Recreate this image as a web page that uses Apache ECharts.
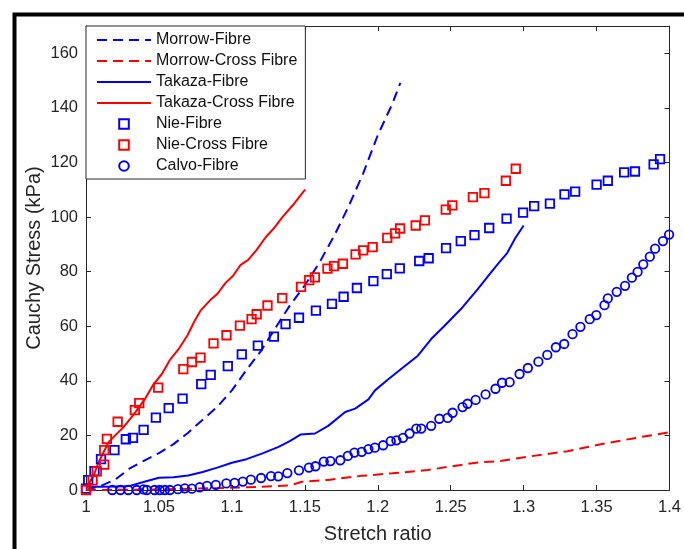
<!DOCTYPE html>
<html>
<head>
<meta charset="utf-8">
<script src="https://cdn.jsdelivr.net/npm/echarts@6/dist/echarts.min.js"></script>
<style>
  html, body { margin: 0; padding: 0; background: #fff; }
  #chart { width: 684px; height: 549px; }
</style>
</head>
<body>
<div id="chart"></div>
<script>
// stretch ratio / stress (kPa)
var morrowFibre = [[1.0,0],[1.01,1.5],[1.02,3.8],[1.03,7.9],[1.04,10.8],[1.05,13.5],[1.06,16.8],[1.07,21],[1.08,25.7],[1.09,30.5],[1.10,36.5],[1.11,44],[1.12,51],[1.13,59.5],[1.14,67.8],[1.15,75],[1.16,83.3],[1.17,93],[1.18,103.9],[1.19,116],[1.20,130],[1.21,141.5],[1.2155,149.2]];
var morrowCross = [[1.0,0],[1.05,0.2],[1.10,0.8],[1.12,1.2],[1.14,1.7],[1.148,3.0],[1.166,3.7],[1.189,5.2],[1.21,6.1],[1.234,7.3],[1.257,9.2],[1.27,10.2],[1.284,10.6],[1.3067,12.5],[1.33,14.2],[1.352,16.7],[1.375,18.9],[1.4,21.2]];
var takazaFibre = [[1.0,1.2],[1.01,1.2],[1.02,1.3],[1.03,1.5],[1.04,3.0],[1.05,4.5],[1.06,4.7],[1.07,5.3],[1.08,6.6],[1.09,8.2],[1.10,10],[1.11,11.3],[1.121,13.4],[1.132,15.8],[1.14,18],[1.147,20.3],[1.157,20.7],[1.166,23.5],[1.1777,28.6],[1.1845,29.8],[1.1936,33.2],[1.1981,36.5],[1.207,40.5],[1.2162,44.4],[1.2275,49.2],[1.2366,55.3],[1.2458,60.2],[1.257,66.3],[1.2684,73.5],[1.2775,79.6],[1.2831,83.3],[1.2888,86.9],[1.2944,92.4],[1.3,96.9]];
var takazaCross = [[1.0,0.5],[1.0054,5.5],[1.0088,10.4],[1.0122,14],[1.0156,17.6],[1.02,20],[1.0258,23.1],[1.0303,26.1],[1.034,28.6],[1.04,33],[1.046,38.5],[1.052,42.5],[1.0577,47.8],[1.064,52],[1.0696,56.7],[1.0745,62],[1.0785,65.7],[1.085,69.5],[1.0903,72],[1.0955,75.8],[1.1007,78.4],[1.106,82.5],[1.111,84.2],[1.117,88],[1.123,92.5],[1.129,96],[1.1348,100.1],[1.142,104.5],[1.1496,109.7],[1.1505,110]];
var nieFibre = [[1.0,0.5],[1.0015,3.6],[1.0058,6.9],[1.0103,11.3],[1.0195,14.6],[1.0273,18.6],[1.0322,19.1],[1.0395,22],[1.0479,26.5],[1.0567,30],[1.0662,33.5],[1.079,38.8],[1.0855,42.2],[1.0972,45.4],[1.1068,49.7],[1.1178,52.9],[1.1288,56.2],[1.1368,60.8],[1.146,63.1],[1.1576,65.7],[1.1686,68.2],[1.1766,70.8],[1.1857,74],[1.197,76.5],[1.2062,79.1],[1.2151,81.2],[1.2284,83.9],[1.2349,84.9],[1.2468,88.6],[1.2569,91.2],[1.2663,93.4],[1.2764,96],[1.2883,99.4],[1.2996,101.6],[1.3072,104],[1.318,104.9],[1.328,108.3],[1.3353,109.3],[1.35,111.9],[1.3577,113.3],[1.3689,116.4],[1.3763,116.7],[1.3891,119.3],[1.3935,121.2]];
var nieCross = [[1.0,0],[1.0045,3.5],[1.0074,6.8],[1.0125,9.3],[1.0125,14.6],[1.0143,18.7],[1.0217,25],[1.0335,29.3],[1.0365,31.8],[1.0495,37.5],[1.0667,44.3],[1.0726,46.9],[1.0785,48.5],[1.0874,53.7],[1.0963,56.7],[1.1055,60.2],[1.1135,62.6],[1.117,64.4],[1.1244,67.6],[1.1345,70.3],[1.1474,74.4],[1.153,76.9],[1.1569,77.9],[1.1655,81.1],[1.17,82],[1.1761,82.9],[1.1848,86.3],[1.19,87.8],[1.1965,89],[1.2065,92.4],[1.2119,94],[1.2153,95.8],[1.226,96.9],[1.2323,98.8],[1.2466,102.7],[1.2511,104.3],[1.2652,107.3],[1.2731,108.8],[1.2878,113.3],[1.2946,117.7]];
var calvoFibre = [[1.018,0],[1.0236,0],[1.029,0],[1.0348,0],[1.0394,0.2],[1.0417,0],[1.047,0],[1.0505,0],[1.054,0],[1.0575,0],[1.063,0.3],[1.0677,0.6],[1.0726,0.5],[1.0779,1.0],[1.083,1.5],[1.089,1.9],[1.0962,2.4],[1.1019,2.6],[1.1075,3.1],[1.113,3.8],[1.12,4.4],[1.1268,5.1],[1.1318,5.0],[1.138,6.2],[1.146,7.2],[1.1528,8.2],[1.1573,8.7],[1.163,10.4],[1.1675,10.6],[1.1743,10.9],[1.1795,12.5],[1.184,13.7],[1.189,14],[1.1936,15],[1.198,15.5],[1.2037,16.4],[1.2089,17.9],[1.2128,18.2],[1.2173,19.1],[1.2218,20.7],[1.2264,22.5],[1.2298,22.5],[1.2366,23.5],[1.2422,26.1],[1.2479,26.4],[1.2513,28.3],[1.2581,30.4],[1.2615,31.6],[1.2671,33],[1.2739,35],[1.2807,37.1],[1.2852,39.3],[1.2904,39.5],[1.2972,42.5],[1.3029,44.7],[1.3101,47],[1.3162,49.5],[1.3221,52.3],[1.3278,53.5],[1.3335,57.1],[1.3389,59.8],[1.3453,62.6],[1.3498,64.1],[1.3554,67.7],[1.3577,70.2],[1.3638,72.6],[1.3695,74.8],[1.3742,77.8],[1.3781,79.9],[1.382,82.7],[1.3865,85.5],[1.3901,88.4],[1.3955,91.2],[1.3997,93.6]];

var xTicks = {min: 1, max: 1.4, step: 0.05};
var yTicks = {min: 0, max: 170, step: 20};

var FONT = 'Liberation Sans, Arial, Helvetica, sans-serif';
var AXIS_COL = '#262626';
var NO_MARK = {color: 'rgba(0,0,0,0)', borderColor: 'rgba(0,0,0,0)', borderWidth: 0};

var chart = echarts.init(document.getElementById('chart'), null, {renderer: 'canvas'});

function tickFmt(v){ return String(parseFloat(v.toFixed(2))); }

function lineSeries(name, data, color, dashed){
  return {
    name: name, type: 'line', data: data, symbol: 'none', smooth: false,
    lineStyle: {color: color, width: 2, type: dashed ? [10, 6] : 'solid'},
    itemStyle: {color: color},
    emphasis: {disabled: true}
  };
}
function markerSeries(name, data, color, shape){
  // drawn as a line series with no visible line so the legend centres the marker
  return {
    name: name, type: 'line', data: data, symbol: shape, symbolSize: 8.5,
    showSymbol: true, showAllSymbol: true,
    lineStyle: {width: 0, opacity: 0},
    itemStyle: {color: 'none', borderColor: color, borderWidth: 1.8},
    emphasis: {disabled: true}
  };
}

var baseAxisLine = {show: true, onZero: false, lineStyle: {color: AXIS_COL, width: 1}};
var baseTick = {show: true, inside: true, length: 5, lineStyle: {color: AXIS_COL, width: 1}};

var option = {
  animation: false,
  backgroundColor: '#fff',
  textStyle: {fontFamily: FONT},
  grid: {left: 86, right: 10, top: 26, bottom: 57},
  legend: {
    left: 86, top: 26, orient: 'vertical',
    padding: [6, 8, 5, 10],
    itemWidth: 54, itemHeight: 12, itemGap: 5,
    borderColor: AXIS_COL, borderWidth: 1, backgroundColor: '#fff',
    textStyle: {fontSize: 16, color: '#111', fontFamily: FONT},
    selectedMode: false,
    data: [
      {name: 'Morrow-Fibre', itemStyle: NO_MARK},
      {name: 'Morrow-Cross Fibre', itemStyle: NO_MARK},
      {name: 'Takaza-Fibre', itemStyle: NO_MARK},
      {name: 'Takaza-Cross Fibre', itemStyle: NO_MARK},
      'Nie-Fibre', 'Nie-Cross Fibre', 'Calvo-Fibre'
    ]
  },
  xAxis: [{
    type: 'value', position: 'bottom', min: xTicks.min, max: xTicks.max, interval: xTicks.step,
    axisLine: baseAxisLine, axisTick: baseTick, splitLine: {show: false},
    axisLabel: {formatter: tickFmt, fontSize: 16.5, color: AXIS_COL, margin: 9, fontFamily: FONT},
    name: 'Stretch ratio', nameLocation: 'middle', nameGap: 34, nameMoveOverlap: false,
    nameTextStyle: {fontSize: 20, color: AXIS_COL, fontFamily: FONT}
  }, {
    type: 'value', position: 'top', min: xTicks.min, max: xTicks.max, interval: xTicks.step,
    axisLine: baseAxisLine, axisTick: baseTick, splitLine: {show: false}, axisLabel: {show: false}
  }],
  yAxis: [{
    type: 'value', position: 'left', min: yTicks.min, max: yTicks.max, interval: yTicks.step,
    axisLine: baseAxisLine, axisTick: baseTick, splitLine: {show: false},
    axisLabel: {fontSize: 16.5, color: AXIS_COL, margin: 8, showMaxLabel: false, fontFamily: FONT},
    name: 'Cauchy Stress (kPa)', nameLocation: 'middle', nameGap: 42, nameMoveOverlap: false,
    nameTextStyle: {fontSize: 20, color: AXIS_COL, fontFamily: FONT}
  }, {
    type: 'value', position: 'right', min: yTicks.min, max: yTicks.max, interval: yTicks.step,
    axisLine: baseAxisLine, axisTick: baseTick, splitLine: {show: false}, axisLabel: {show: false}
  }],
  series: [
    lineSeries('Morrow-Fibre', morrowFibre, '#0000ff', true),
    lineSeries('Morrow-Cross Fibre', morrowCross, '#ff0000', true),
    lineSeries('Takaza-Fibre', takazaFibre, '#0000ff', false),
    lineSeries('Takaza-Cross Fibre', takazaCross, '#ff0000', false),
    markerSeries('Nie-Fibre', nieFibre, '#0000ff', 'rect'),
    markerSeries('Nie-Cross Fibre', nieCross, '#ff0000', 'rect'),
    markerSeries('Calvo-Fibre', calvoFibre, '#0000ff', 'circle')
  ],
  graphic: [{
    type: 'rect', silent: true, z: 100,
    shape: {x: 14.5, y: 14.5, width: 720, height: 600},
    style: {fill: 'none', stroke: '#000', lineWidth: 4}
  }]
};
chart.setOption(option);
</script>
</body>
</html>
